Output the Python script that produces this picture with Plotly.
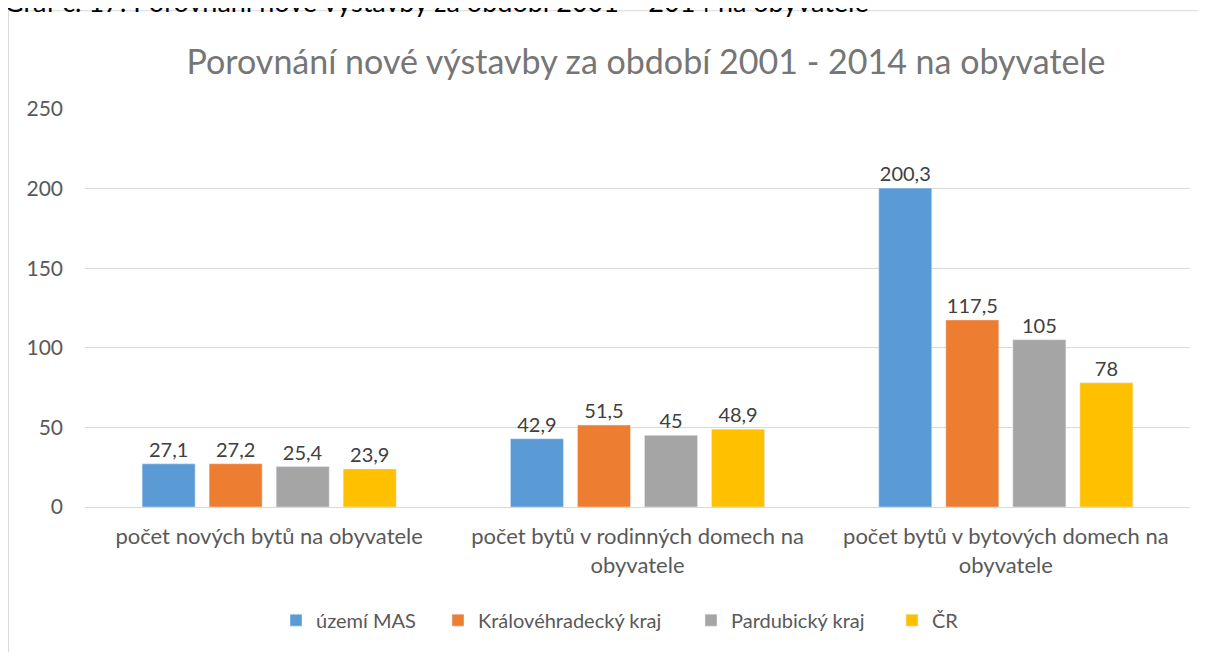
import plotly.graph_objects as go

categories = ["počet nových bytů na obyvatele",
              "počet bytů v rodinných domech na<br>obyvatele",
              "počet bytů v bytových domech na<br>obyvatele"]
series_names = ["území MAS", "Královéhradecký kraj", "Pardubický kraj", "ČR"]
mas = [27.1, 42.9, 200.3]
kh = [27.2, 51.5, 117.5]
pa = [25.4, 45, 105]
cr = [23.9, 48.9, 78]
colors = ["#5b9bd5", "#ed7d31", "#a5a5a5", "#ffc000"]
y_ticks = [0, 50, 100, 150, 200, 250]

FONT = "Lato"

def fmt(v):
    return ("%g" % v).replace(".", ",")

W, H = 1198, 644
L, T, R, B = 77, 101, 16, 142
pw = W - L - R
ph = H - T - B
bottom_px = H - B

legend_ids = ["legend", "legend2", "legend3", "legend4"]
legend_left_px = [268, 430, 683, 884]

fig = go.Figure()
for name, vals, col, lid in zip(series_names, [mas, kh, pa, cr], colors, legend_ids):
    fig.add_trace(go.Bar(
        x=categories, y=vals, name=name, marker_color=col,
        text=[fmt(v) for v in vals], textposition="outside",
        textfont=dict(size=20, color="#404040", family=FONT),
        cliponaxis=False, legend=lid,
    ))

legend_layout = {}
for lid, lx in zip(legend_ids, legend_left_px):
    legend_layout[lid] = dict(orientation="h", x=(lx - L) / pw, xanchor="left",
                              y=(bottom_px - 616) / ph, yanchor="middle",
                              font=dict(size=20, color="#595959"),
                              bgcolor="rgba(0,0,0,0)")

fig.update_layout(
    width=W, height=H,
    margin=dict(l=L, r=R, t=T, b=B),
    paper_bgcolor="white", plot_bgcolor="white",
    barmode="group", bargap=0.272, bargroupgap=0.209,
    font=dict(family=FONT, color="#595959"),
    title=dict(text="Porovnání nové výstavby za období 2001 - 2014 na obyvatele",
               x=638 / W, xanchor="center", y=1 - 54 / H, yanchor="middle",
               font=dict(size=34, color="#767676", family=FONT)),
    xaxis=dict(tickfont=dict(size=22, color="#595959"), showgrid=False,
               showline=True, linecolor="#d9d9d9", ticks="", ticklabelstandoff=10),
    yaxis=dict(range=[0, 250], tickvals=y_ticks, tickfont=dict(size=21, color="#595959"),
               gridcolor="#d9d9d9", gridwidth=1, zeroline=False, showline=False,
               ticks="", ticklabelstandoff=21),
    showlegend=True,
    **legend_layout,
)

fig.add_shape(type="rect", xref="paper", yref="paper",
              x0=(0.5 - L) / pw, x1=1.1, y0=-0.6, y1=(bottom_px - 2) / ph,
              line=dict(color="#d9d9d9", width=1), fillcolor="rgba(0,0,0,0)", layer="below")

fig.add_annotation(text="Graf č. 17: Porovnání nové výstavby za období 2001 – 2014 na obyvatele",
                   xref="paper", yref="paper", x=(-6 - L) / pw, xanchor="left",
                   y=(bottom_px - 11) / ph, yanchor="bottom", showarrow=False,
                   font=dict(size=27, color="#000000", family=FONT))

fig.write_html("out.html")
